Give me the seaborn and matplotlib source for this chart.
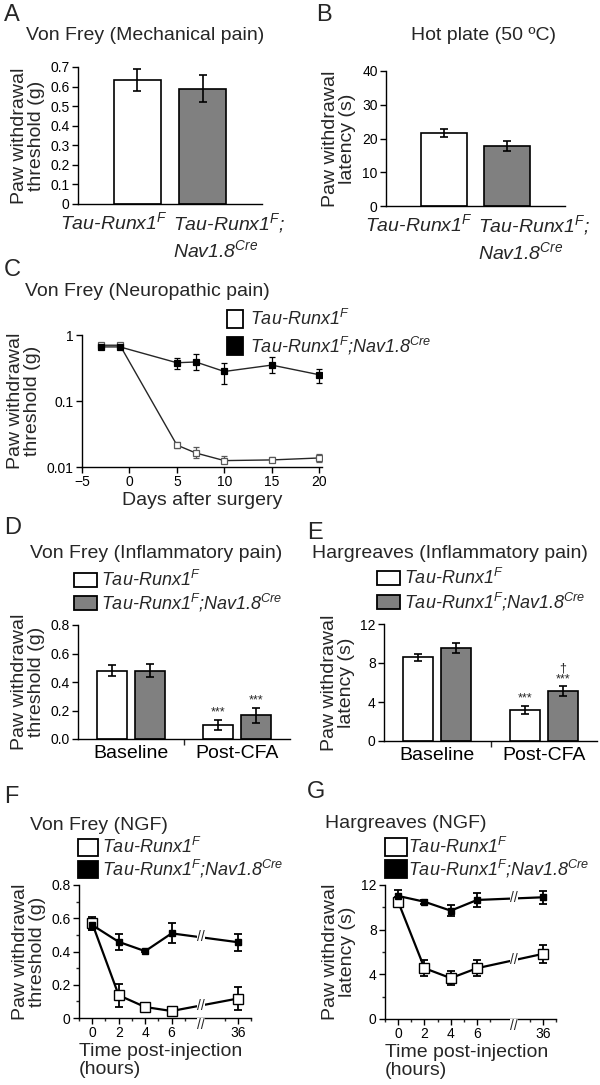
import numpy as np
import pandas as pd
import matplotlib
matplotlib.use("Agg")
import matplotlib.pyplot as plt
import matplotlib.transforms as mtrans
from matplotlib.patches import Rectangle
from matplotlib.ticker import NullLocator, FixedLocator, FuncFormatter
import seaborn as sns

# ---- values ----
genotypes = ["Tau-Runx1F", "Tau-Runx1F;Nav1.8Cre"]
ctrl_label = "Tau-Runx1$^F$"
cko_label = "Tau-Runx1$^F$;Nav1.8$^{Cre}$"

# A - Von Frey (mechanical pain)
vf_mech_mean = [0.635, 0.59]
vf_mech_sem = [0.057, 0.067]

# B - hot plate
hot_mean = [21.5, 17.7]
hot_sem = [1.2, 1.5]

# C - Von Frey (neuropathic pain), log scale so errors are lo/hi
neuro_days = [-3, -1, 5, 7, 10, 15, 20]
neuro_ctrl = [0.7, 0.7, 0.0215, 0.0163, 0.0125, 0.0128, 0.0137]
neuro_ctrl_lo = [0.64, 0.64, 0.0195, 0.0135, 0.0113, 0.0118, 0.0118]
neuro_ctrl_hi = [0.76, 0.76, 0.024, 0.020, 0.0145, 0.014, 0.016]
neuro_cko = [0.66, 0.66, 0.38, 0.39, 0.28, 0.35, 0.25]
neuro_cko_lo = [0.61, 0.61, 0.31, 0.29, 0.18, 0.27, 0.19]
neuro_cko_hi = [0.71, 0.71, 0.45, 0.52, 0.38, 0.46, 0.31]

# D / E - inflammatory pain (CFA)
cfa_conditions = ["Baseline", "Post-CFA"]
cfa_vf_ctrl = [0.478, 0.097]
cfa_vf_ctrl_sem = [0.038, 0.035]
cfa_vf_cko = [0.48, 0.165]
cfa_vf_cko_sem = [0.047, 0.055]
cfa_vf_marks_ctrl = ["", "***"]
cfa_vf_marks_cko = ["", "***"]

cfa_hg_ctrl = [8.6, 3.2]
cfa_hg_ctrl_sem = [0.35, 0.4]
cfa_hg_cko = [9.56, 5.1]
cfa_hg_cko_sem = [0.5, 0.5]
cfa_hg_marks_ctrl = ["", "***"]
cfa_hg_marks_cko = ["", "\u2020\n***"]

# F / G - NGF
ngf_hours = [0, 2, 4, 6, 36]
ngf_vf_ctrl = [0.569, 0.137, 0.066, 0.042, 0.117]
ngf_vf_ctrl_sem = [0.04, 0.07, 0.015, 0.008, 0.07]
ngf_vf_cko = [0.559, 0.458, 0.402, 0.509, 0.456]
ngf_vf_cko_sem = [0.03, 0.05, 0.008, 0.06, 0.05]

ngf_hg_ctrl = [10.5, 4.55, 3.66, 4.55, 5.83]
ngf_hg_ctrl_sem = [0.4, 0.7, 0.6, 0.7, 0.8]
ngf_hg_cko = [11.02, 10.5, 9.7, 10.66, 10.9]
ngf_hg_cko_sem = [0.5, 0.2, 0.5, 0.6, 0.6]

GREY = "#808080"

sns.set_theme(style="ticks")
plt.rcParams["font.family"] = ["Liberation Sans", "DejaVu Sans"]
plt.rcParams["mathtext.fontset"] = "custom"
plt.rcParams["mathtext.rm"] = "Liberation Sans"
plt.rcParams["mathtext.it"] = "Liberation Sans:italic"
plt.rcParams["mathtext.bf"] = "Liberation Sans:bold"
plt.rcParams["axes.linewidth"] = 1.0

W, H = 600, 1085
fig = plt.figure(figsize=(W / 100, H / 100), dpi=100)


def add_ax(x0, y0, x1, y1):
    # pixel box (top-left origin) -> figure axes
    return fig.add_axes([x0 / W, 1 - y1 / H, (x1 - x0) / W, (y1 - y0) / H])


def ftext(x, y, s, **kw):
    fig.text(x / W, 1 - y / H, s, **kw)


def legend_entry(x, y, w, h, face, label, tx):
    fig.add_artist(Rectangle((x / W, 1 - (y + h / 2) / H), w / W, h / H,
                             transform=fig.transFigure, facecolor=face,
                             edgecolor="black", lw=1.3))
    ftext(tx, y, label, fontsize=13, style="italic", va="center", ha="left")


def style_axes(ax):
    sns.despine(ax=ax)
    ax.tick_params(direction="out", length=4, width=1, labelsize=10,
                   colors="black", pad=2)
    ax.tick_params(which="minor", direction="out", length=2.5, width=1)
    for s in ax.spines.values():
        s.set_color("black")


def bar_pair(ax, means, sems):
    df = pd.DataFrame({"genotype": genotypes, "value": means})
    sns.barplot(data=df, x="genotype", y="value", hue="genotype",
                palette=dict(zip(genotypes, ["white", GREY])),
                edgecolor="black", linewidth=1.2, width=0.72,
                errorbar=None, legend=False, ax=ax)
    ax.errorbar(range(len(means)), means, yerr=sems, fmt="none",
                ecolor="black", elinewidth=1.2, capsize=3, capthick=1.2)
    ax.set_xlim(-0.915, 1.915)
    ax.set_xticks([])
    ax.set_xlabel("")
    lbl = dict(xycoords=("data", "axes fraction"), textcoords="offset points",
               fontsize=14, style="italic", va="top", linespacing=1.25)
    ax.annotate(ctrl_label, (0.5, 0), xytext=(-2, -5), ha="right", **lbl)
    ax.annotate("Tau-Runx1$^F$;\nNav1.8$^{Cre}$", (0.5, 0), xytext=(2, -5),
                ha="left", multialignment="left", **lbl)
    style_axes(ax)


def grouped_bars(ax, ctrl, ctrl_sem, cko, cko_sem, marks):
    df = pd.DataFrame({
        "condition": cfa_conditions * 2,
        "genotype": [genotypes[0]] * 2 + [genotypes[1]] * 2,
        "value": ctrl + cko,
    })
    sns.barplot(data=df, x="condition", y="value", hue="genotype",
                hue_order=genotypes,
                palette=dict(zip(genotypes, ["white", GREY])),
                edgecolor="black", linewidth=1.2, width=0.72, gap=0.22,
                errorbar=None, legend=False, ax=ax)
    sems = ctrl_sem + cko_sem
    vals = ctrl + cko
    for p, v, e, m in zip(ax.patches, vals, sems, marks):
        xc = p.get_x() + p.get_width() / 2
        ax.errorbar(xc, v, yerr=e, fmt="none", ecolor="black",
                    elinewidth=1.2, capsize=3, capthick=1.2)
        if m:
            ax.annotate(m, (xc, v + e), xytext=(0, 1), textcoords="offset points",
                        ha="center", va="bottom", fontsize=9, linespacing=0.85)
    ax.set_xlim(-0.5, 1.5)
    ax.set_xticks([0, 1])
    ax.set_xticklabels(cfa_conditions, fontsize=14)
    ax.xaxis.set_minor_locator(FixedLocator([0.5]))
    ax.set_xlabel("")
    style_axes(ax)
    ax.tick_params(axis="x", which="major", length=0, labelsize=14, pad=4)
    ax.tick_params(axis="x", which="minor", length=4)


def ngf_lines(ax, ctrl, ctrl_sem, cko, cko_sem, brk):
    # compress the 6 h -> 36 h gap onto a broken axis
    pos = [h if h <= 6 else 11 for h in ngf_hours]
    for vals, sems, face, ms in ((ctrl, ctrl_sem, "white", 6.5),
                                 (cko, cko_sem, "black", 5.0)):
        ax.errorbar(pos, vals, yerr=sems, fmt="none", ecolor="black",
                    elinewidth=1.3, capsize=3, capthick=1.3, zorder=2)
        sns.lineplot(x=pos, y=vals, color="black", linewidth=1.6, marker="s",
                     markersize=ms, markerfacecolor=face,
                     markeredgecolor="black", markeredgewidth=1.0, ax=ax,
                     zorder=3)
        yb = np.interp(brk, pos, vals)
        ax.text(brk, yb, "//", ha="center", va="center", fontsize=10,
                zorder=4, bbox=dict(fc="white", ec="none", pad=0.2))
    ax.text(brk, 0, "//", transform=mtrans.blended_transform_factory(ax.transData, ax.transAxes),
            ha="center", va="top", fontsize=10, zorder=4, clip_on=False,
            bbox=dict(fc="white", ec="none", pad=0.2))
    ax.set_xlim(-1, 12)
    ax.set_xticks(pos)
    ax.set_xticklabels([str(h) for h in ngf_hours])
    ax.xaxis.set_minor_locator(FixedLocator([-1, 1, 3, 5, 7, 10, 12]))
    ax.set_xlabel("Time post-injection\n(hours)", fontsize=14, loc="left",
                  labelpad=2, linespacing=1.05)
    style_axes(ax)


# ---------------- A ----------------
ftext(4, 15, "A", fontsize=17, va="center")
ftext(26, 35, "Von Frey (Mechanical pain)", fontsize=14, va="center")
axA = add_ax(78, 67, 262, 204)
bar_pair(axA, vf_mech_mean, vf_mech_sem)
axA.set_ylim(0, 0.7)
axA.set_yticks(np.arange(0, 0.71, 0.1))
axA.yaxis.set_major_formatter(FuncFormatter(lambda v, _: "0" if v == 0 else f"{v:.1f}"))
axA.set_ylabel("Paw withdrawal\nthreshold (g)", fontsize=14, labelpad=4, linespacing=1.0)

# ---------------- B ----------------
ftext(316, 15, "B", fontsize=17, va="center")
ftext(483, 36, "Hot plate (50 \u00baC)", fontsize=14, va="center", ha="center")
axB = add_ax(386, 71, 565, 206)
bar_pair(axB, hot_mean, hot_sem)
axB.set_ylim(0, 40)
axB.set_yticks([0, 10, 20, 30, 40])
axB.set_ylabel("Paw withdrawal\nlatency (s)", fontsize=14, labelpad=4, linespacing=1.0)

# ---------------- C ----------------
ftext(4, 270, "C", fontsize=17, va="center")
ftext(25, 292, "Von Frey (Neuropathic pain)", fontsize=14, va="center")
axC = add_ax(82, 335, 322, 467)
for vals, lo, hi, face, mec in ((neuro_ctrl, neuro_ctrl_lo, neuro_ctrl_hi, "white", "0.35"),
                                (neuro_cko, neuro_cko_lo, neuro_cko_hi, "black", "black")):
    v = np.array(vals)
    axC.errorbar(neuro_days, v, yerr=[v - np.array(lo), np.array(hi) - v],
                 fmt="none", ecolor=mec, elinewidth=0.9, capsize=2, capthick=0.9)
    sns.lineplot(x=neuro_days, y=vals, color="0.15", linewidth=1.0, marker="s",
                 markersize=4, markerfacecolor=face, markeredgecolor=mec,
                 markeredgewidth=0.9, ax=axC)
axC.set_yscale("log")
axC.set_ylim(0.01, 1)
axC.set_yticks([0.01, 0.1, 1])
axC.set_yticklabels(["0.01", "0.1", "1"])
axC.yaxis.set_minor_locator(NullLocator())
axC.set_xlim(-5, 20.3)
axC.set_xticks([-5, 0, 5, 10, 15, 20])
axC.set_xlabel("Days after surgery", fontsize=14, labelpad=2)
axC.set_ylabel("Paw withdrawal\nthreshold (g)", fontsize=14, labelpad=4, linespacing=1.0)
style_axes(axC)
legend_entry(227, 319, 16, 18, "white", ctrl_label, 250)
legend_entry(227, 346, 16, 18, "black", cko_label, 250)

# ---------------- D ----------------
ftext(4, 528, "D", fontsize=17, va="center")
ftext(30, 553, "Von Frey (Inflammatory pain)", fontsize=14, va="center")
legend_entry(74, 580, 23, 14, "white", ctrl_label, 101)
legend_entry(74, 603, 23, 14, GREY, cko_label, 101)
axD = add_ax(78, 625, 290, 739)
grouped_bars(axD, cfa_vf_ctrl, cfa_vf_ctrl_sem, cfa_vf_cko, cfa_vf_cko_sem,
             cfa_vf_marks_ctrl + cfa_vf_marks_cko)
axD.set_ylim(0, 0.8)
axD.set_yticks(np.arange(0, 0.81, 0.2))
axD.yaxis.set_major_formatter(FuncFormatter(lambda v, _: f"{v:.1f}"))
axD.set_ylabel("Paw withdrawal\nthreshold (g)", fontsize=14, labelpad=4, linespacing=1.0)

# ---------------- E ----------------
ftext(307, 533, "E", fontsize=17, va="center")
ftext(312, 553, "Hargreaves (Inflammatory pain)", fontsize=14, va="center")
legend_entry(377, 578, 23, 14, "white", ctrl_label, 404)
legend_entry(377, 602, 23, 14, GREY, cko_label, 404)
axE = add_ax(384, 624, 597, 741)
grouped_bars(axE, cfa_hg_ctrl, cfa_hg_ctrl_sem, cfa_hg_cko, cfa_hg_cko_sem,
             cfa_hg_marks_ctrl + cfa_hg_marks_cko)
axE.set_ylim(0, 12)
axE.set_yticks([0, 4, 8, 12])
axE.set_ylabel("Paw withdrawal\nlatency (s)", fontsize=14, labelpad=4, linespacing=1.0)

# ---------------- F ----------------
ftext(4, 797, "F", fontsize=17, va="center")
ftext(30, 825, "Von Frey (NGF)", fontsize=14, va="center")
legend_entry(78, 847, 20, 17, "white", ctrl_label, 102)
legend_entry(78, 869, 20, 17, "black", cko_label, 102)
axF = add_ax(79, 885, 251, 1018)
ngf_lines(axF, ngf_vf_ctrl, ngf_vf_ctrl_sem, ngf_vf_cko, ngf_vf_cko_sem, 8.2)
axF.set_ylim(0, 0.8)
axF.set_yticks([0, 0.2, 0.4, 0.6, 0.8])
axF.yaxis.set_minor_locator(FixedLocator([0.1, 0.3, 0.5, 0.7]))
axF.yaxis.set_major_formatter(FuncFormatter(lambda v, _: "0" if v == 0 else f"{v:.1f}"))
axF.set_ylabel("Paw withdrawal\nthreshold (g)", fontsize=14, labelpad=4, linespacing=1.0)

# ---------------- G ----------------
ftext(307, 792, "G", fontsize=17, va="center")
ftext(325, 823, "Hargreaves (NGF)", fontsize=14, va="center")
legend_entry(385, 847, 22, 18, "white", ctrl_label, 408)
legend_entry(385, 869, 22, 18, "black", cko_label, 408)
axG = add_ax(385, 885, 556, 1019)
ngf_lines(axG, ngf_hg_ctrl, ngf_hg_ctrl_sem, ngf_hg_cko, ngf_hg_cko_sem, 8.8)
axG.set_ylim(0, 12)
axG.set_yticks([0, 4, 8, 12])
axG.yaxis.set_minor_locator(FixedLocator([2, 6, 10]))
axG.set_ylabel("Paw withdrawal\nlatency (s)", fontsize=14, labelpad=4, linespacing=1.0)

fig.savefig("out.png", dpi=100, facecolor="white")
